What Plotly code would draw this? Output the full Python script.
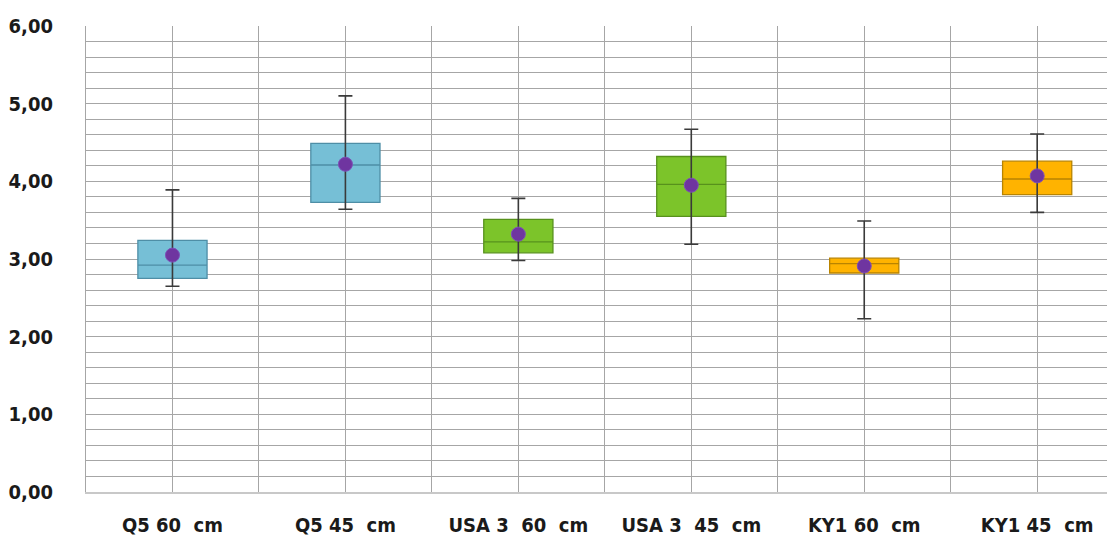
import plotly.graph_objects as go

categories = ["Q5 60  cm", "Q5 45  cm", "USA 3  60  cm", "USA 3  45  cm", "KY1 60  cm", "KY1 45  cm"]
lower = [2.65, 3.64, 2.98, 3.19, 2.23, 3.60]
q1 = [2.75, 3.73, 3.08, 3.55, 2.82, 3.83]
median = [2.92, 4.21, 3.22, 3.96, 2.94, 4.03]
q3 = [3.24, 4.49, 3.51, 4.32, 3.01, 4.26]
upper = [3.89, 5.10, 3.78, 4.67, 3.49, 4.61]
mean = [3.05, 4.22, 3.32, 3.95, 2.91, 4.07]

fills = ["#76BFD6", "#76BFD6", "#7CC42A", "#7CC42A", "#FFB300", "#FFB300"]
edges = ["#4E8EA6", "#4E8EA6", "#57911C", "#57911C", "#B98400", "#B98400"]

xpos = list(range(len(categories)))
FONT = "DejaVu Sans Condensed, Liberation Sans Narrow, sans-serif"

fig = go.Figure()

# whiskers as error bars
fig.add_trace(go.Scatter(
    x=xpos, y=median, mode="markers", marker=dict(size=1, opacity=0),
    error_y=dict(type="data", symmetric=False,
                 array=[u - m for u, m in zip(upper, median)],
                 arrayminus=[m - l for m, l in zip(median, lower)],
                 color="#3A3A3A", thickness=1.6, width=7),
    showlegend=False, hoverinfo="skip"))

for i in xpos:
    fig.add_trace(go.Box(
        x=[xpos[i]], q1=[q1[i]], median=[median[i]], q3=[q3[i]],
        lowerfence=[q1[i]], upperfence=[q3[i]],
        fillcolor=fills[i], line=dict(color=edges[i], width=1.3),
        width=0.4, whiskerwidth=0, boxpoints=False, showlegend=False,
        name=categories[i]))

fig.add_trace(go.Scatter(
    x=xpos, y=mean, mode="markers",
    marker=dict(size=14, color="#6F35A0", line=dict(color="#7E4FB8", width=1)),
    showlegend=False))

fig.update_layout(
    width=1107, height=529,
    margin=dict(l=78, r=0, t=18, b=45),
    plot_bgcolor="white", paper_bgcolor="white",
    separators=",.",
    boxmode="overlay",
    font=dict(family=FONT, size=20, color="#1a1a1a", weight="bold"),
)
fig.update_xaxes(
    range=[-0.5, 5.45], tickvals=xpos, ticktext=categories,
    showgrid=True, gridcolor="#A6A6A6", gridwidth=1,
    minor=dict(tick0=-0.5, dtick=1, showgrid=True, gridcolor="#A6A6A6", gridwidth=1),
    ticks="outside", ticklen=14, tickcolor="rgba(0,0,0,0)",
    showline=True, linecolor="#C8C8C8", linewidth=1.5,
    zeroline=False, automargin=False,
)
fig.update_yaxes(
    range=[0, 6], tickvals=[0, 1, 2, 3, 4, 5, 6], tickformat=".2f",
    showgrid=True, gridcolor="#A6A6A6", gridwidth=1,
    minor=dict(dtick=0.2, showgrid=True, gridcolor="#A6A6A6", gridwidth=1),
    ticks="outside", ticklen=28, tickcolor="rgba(0,0,0,0)",
    showline=True, linecolor="#A6A6A6", zeroline=False, automargin=False,
)

fig.write_html("out.html")
